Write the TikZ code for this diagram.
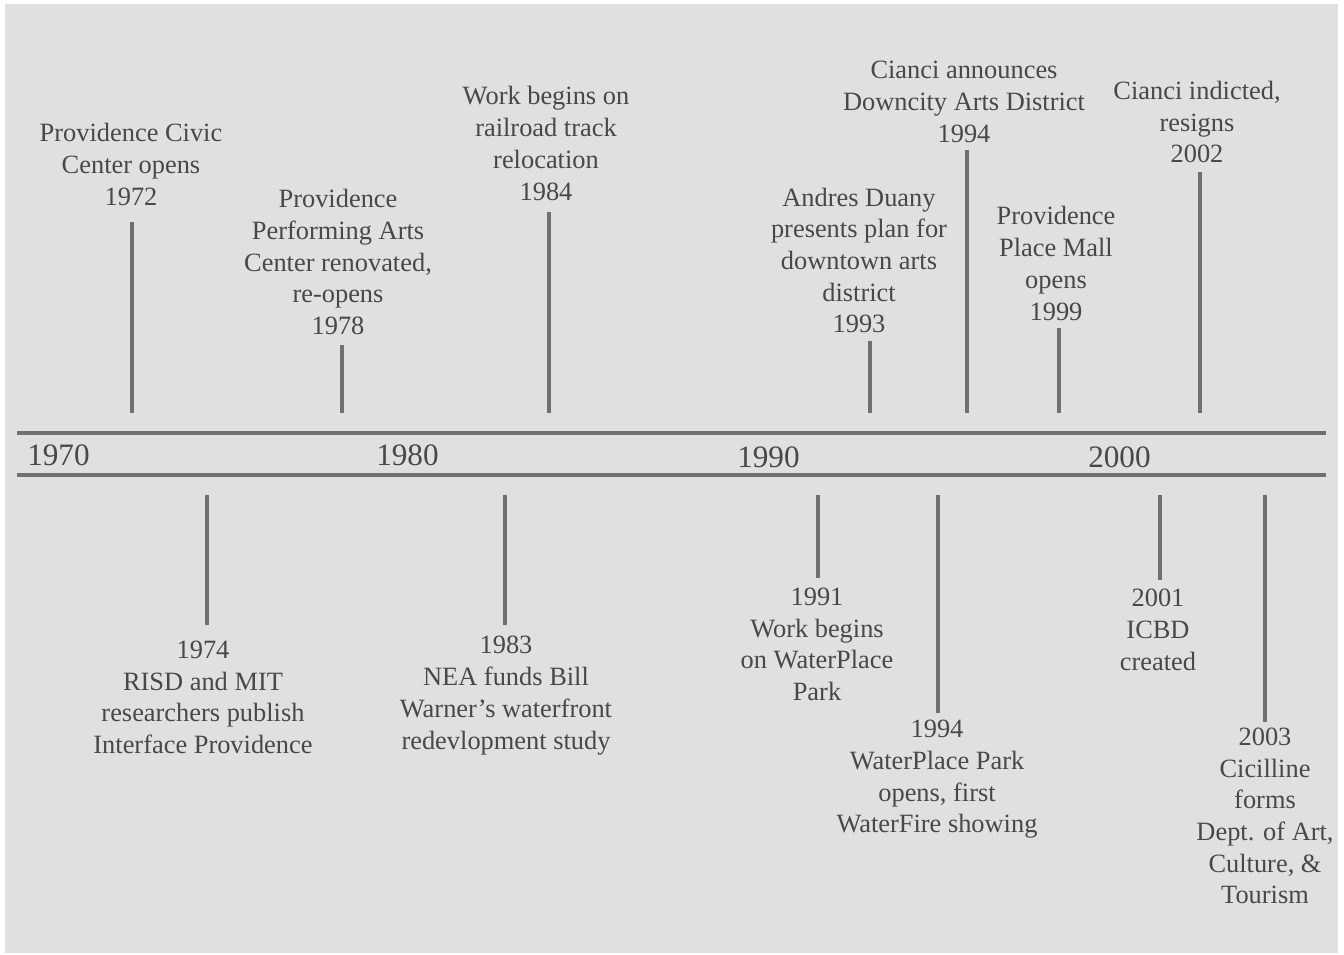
\documentclass[tikz,border=0pt]{standalone}
\usepackage{fontspec}
\setmainfont{Liberation Serif}
\definecolor{bg}{HTML}{E0E0E0}
\definecolor{txt}{HTML}{484848}
\definecolor{ln}{HTML}{707070}
\begin{document}
\begin{tikzpicture}[x=0.75pt,y=-0.75pt,
  lbl/.style={align=center,inner sep=0pt,text=txt,font=\fontsize{19.8pt}{23.8pt}\selectfont},
  yr/.style={anchor=west,inner sep=0pt,text=txt,font=\fontsize{23.4pt}{28pt}\selectfont},
  tick/.style={draw=ln,line width=2.3pt},
  axis/.style={draw=ln,line width=2.3pt}]
\useasboundingbox (0,0) rectangle (1344,955);
\fill[white] (0,0) rectangle (1344,955);
\fill[bg] (5,4) rectangle (1338,953);
% axis
\coordinate (a1) at (17,433); \coordinate (a2) at (1326,433);
\coordinate (b1) at (17,475); \coordinate (b2) at (1326,475);
\draw[axis] (a1) -- (a2);
\draw[axis] (b1) -- (b2);
\node[yr] (y1970) at (27,455) {1970};
\node[yr] (y1980) at (376,455) {1980};
\node[yr] (y1990) at (737,457) {1990};
\node[yr] (y2000) at (1088,457) {2000};
% upper labels
\node[lbl] (e1972) at (131,164.5) {Providence Civic\\Center opens\\1972};
\node[lbl] (e1978) at (338,262) {Providence\\Performing Arts\\Center renovated,\\re-opens\\1978};
\node[lbl] (e1984) at (546,143.5) {Work begins on\\railroad track\\relocation\\1984};
\node[lbl] (e1993) at (859,260.5) {Andres Duany\\presents plan for\\downtown arts\\district\\1993};
\node[lbl] (e1994a) at (964,102) {Cianci announces\\Downcity Arts District\\1994};
\node[lbl] (e1999) at (1056,263.5) {Providence\\Place Mall\\opens\\1999};
\node[lbl] (e2002) at (1197,122) {Cianci indicted,\\resigns\\2002};
% lower labels
\node[lbl] (e1974) at (203,697.5) {1974\\RISD and MIT\\researchers publish\\Interface Providence};
\node[lbl] (e1983) at (506,695.5) {1983\\NEA funds Bill\\Warner’s waterfront\\redevlopment study};
\node[lbl] (e1991) at (817,644.5) {1991\\Work begins\\on WaterPlace\\Park};
\node[lbl] (e1994b) at (937,779.5) {1994\\WaterPlace Park\\opens, first\\WaterFire showing};
\node[lbl] (e2001) at (1158,630) {2001\\ICBD\\created};
\node[lbl] (e2003) at (1265,816) {2003\\Cicilline\\forms\\Dept. of Art,\\Culture, \&\\Tourism};
% upper ticks
\coordinate (t1a) at (132,413); \coordinate (t1b) at (132,222);
\coordinate (t2a) at (342,413); \coordinate (t2b) at (342,345);
\coordinate (t3a) at (549,413); \coordinate (t3b) at (549,212);
\coordinate (t4a) at (870,413); \coordinate (t4b) at (870,341);
\coordinate (t5a) at (967,413); \coordinate (t5b) at (967,150);
\coordinate (t6a) at (1059,413); \coordinate (t6b) at (1059,328);
\coordinate (t7a) at (1200,413); \coordinate (t7b) at (1200,172);
\draw[tick] (t1a) -- (t1b);
\draw[tick] (t2a) -- (t2b);
\draw[tick] (t3a) -- (t3b);
\draw[tick] (t4a) -- (t4b);
\draw[tick] (t5a) -- (t5b);
\draw[tick] (t6a) -- (t6b);
\draw[tick] (t7a) -- (t7b);
% lower ticks
\coordinate (u1a) at (207,495); \coordinate (u1b) at (207,625);
\coordinate (u2a) at (505,495); \coordinate (u2b) at (505,625);
\coordinate (u3a) at (818,495); \coordinate (u3b) at (818,578);
\coordinate (u4a) at (938,495); \coordinate (u4b) at (938,713);
\coordinate (u5a) at (1160,495); \coordinate (u5b) at (1160,580);
\coordinate (u6a) at (1265,495); \coordinate (u6b) at (1265,722);
\draw[tick] (u1a) -- (u1b);
\draw[tick] (u2a) -- (u2b);
\draw[tick] (u3a) -- (u3b);
\draw[tick] (u4a) -- (u4b);
\draw[tick] (u5a) -- (u5b);
\draw[tick] (u6a) -- (u6b);
\end{tikzpicture}
\end{document}
